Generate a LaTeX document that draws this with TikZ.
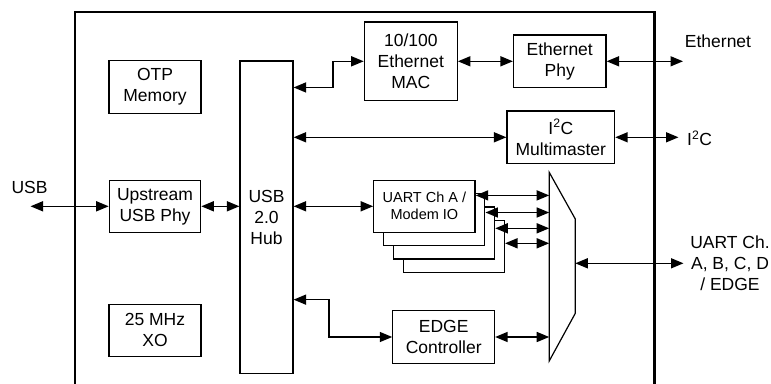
\documentclass[tikz,border=0pt]{standalone}
\usepackage{fontspec}
\setmainfont{Liberation Sans}
\usepackage{tikz}
\usetikzlibrary{arrows.meta,positioning,calc}

\begin{document}
\begin{tikzpicture}[
  x=1pt, y=-1pt,
  font=\fontsize{17.5}{21}\selectfont,
  blk/.style={draw, line width=1.2pt, align=center, inner sep=0pt, fill=white},
  uart/.style={blk, minimum width=101.3pt, minimum height=52pt, font=\fontsize{14.5}{17}\selectfont},
  mux/.style={line width=1.2pt, line join=miter},
  biarr/.style={{Triangle[length=12.5pt,width=10pt]}-{Triangle[length=12.5pt,width=10pt]}, line width=1.5pt},
  frame/.style={line width=2.4pt}
]
\useasboundingbox (0,0) rectangle (771,383);
\draw[frame] (75.2,392) -- (75.2,11.7) -- (654.5,11.7) -- (654.5,392);

\node[blk, minimum width=53pt, minimum height=312.3pt] (hub) at (266.5,217.2) {USB\\2.0\\Hub};
\node[blk, minimum width=91.4pt, minimum height=52pt] (phy) at (155,206.3) {Upstream\\USB Phy};
\node[blk, minimum width=92pt, minimum height=52.6pt, above=66pt of phy] (otp) {OTP\\Memory};
\node[blk, minimum width=92pt, minimum height=52.3pt, below=70.7pt of phy] (xo) {25 MHz\\XO};
\node[blk, minimum width=93pt, minimum height=78.7pt] (mac) at (410.8,61.3) {10/100\\Ethernet\\MAC};
\node[blk, minimum width=92.5pt, minimum height=52.7pt, right=55pt of mac] (ethphy) {Ethernet\\Phy};
\node[blk, minimum width=107.6pt, minimum height=52.7pt] (i2c) at (560.8,137.3) {I\textsuperscript{2}C\\Multimaster};
\node[uart] (uartD) at (453.8,246.2) {};
\node[uart] (uartC) at ([shift={(-9.8,-13.3)}]uartD) {};
\node[uart] (uartB) at ([shift={(-9.8,-13.3)}]uartC) {};
\node[uart] (uartA) at ([shift={(-9.8,-13.3)}]uartB) {UART Ch A /\\Modem IO};
\node[blk, minimum width=101.7pt, minimum height=52.6pt] (edge) at (443.7,337) {EDGE\\Controller};

\coordinate (muxa) at (549.2,172.3);
\coordinate (muxb) at (575.3,219);
\coordinate (muxc) at (575.3,313.3);
\coordinate (muxd) at (549.2,361);
\coordinate (muxout) at (575.3,263.3);
\draw[mux] (muxa) -- (muxb) -- (muxc) -- (muxd) -- cycle;

\coordinate (usbpin) at (30.5,206.3);
\coordinate (ethpin) at (683,61.3);
\coordinate (i2cpin) at (678.5,137.3);
\coordinate (uartpin) at (683.5,263.3);

\node (usblbl) at (29.5,187) {USB};
\node (ethlbl) at (718,41.7) {Ethernet};
\node[anchor=west, inner sep=0pt] (i2clbl) at (687,138) {I\textsuperscript{2}C};
\node[align=center] (uartlbl) at (730,263.5) {UART Ch.\\A, B, C, D\\/ EDGE};

\draw[biarr] (usbpin) -- (phy.west);
\draw[biarr] (phy.east) -- (hub.west |- phy.east);
\draw[biarr] ([yshift=-27pt]hub.north east) -- ++(39.4,0) |- (mac.west);
\draw[biarr] (mac.east) -- (ethphy.west);
\draw[biarr] (ethphy.east) -- (ethpin);
\draw[biarr] (hub.east |- i2c.west) -- (i2c.west);
\draw[biarr] (i2c.east) -- (i2cpin);
\draw[biarr] (hub.east |- uartA.west) -- (uartA.west);
\draw[biarr] ([yshift=-15.7pt]uartA.north east) -- ([yshift=-15.7pt]uartA.north east -| muxa);
\draw[biarr] ([yshift=-19.5pt]uartB.north east) -- ([yshift=-19.5pt]uartB.north east -| muxa);
\draw[biarr] ([yshift=-22pt]uartC.north east) -- ([yshift=-22pt]uartC.north east -| muxa);
\draw[biarr] ([yshift=-23.7pt]uartD.north east) -- ([yshift=-23.7pt]uartD.north east -| muxa);
\draw[biarr] ([yshift=74.3pt]hub.south east) -- ++(35.5,0) |- (edge.west);
\draw[biarr] (edge.east) -- (edge.east -| muxa);
\draw[biarr] (muxout) -- (uartpin);
\end{tikzpicture}
\end{document}
